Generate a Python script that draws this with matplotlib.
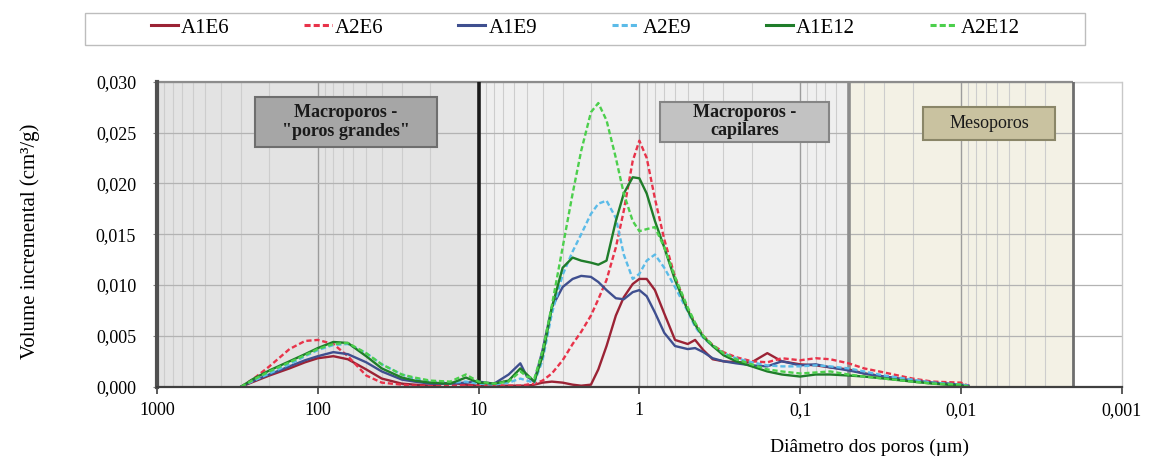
import matplotlib
matplotlib.use('Agg')
import matplotlib.pyplot as plt
from matplotlib.patches import Rectangle
from matplotlib.lines import Line2D
import numpy as np

plt.rcParams['font.family'] = ['Liberation Serif', 'DejaVu Serif']

# ---------------- data (pore diameter in µm, incremental volume in cm3/g) ----
diameters = [300, 250, 200, 150, 120, 100, 80, 65, 50, 40, 30, 25, 20, 15, 12, 10,
             8, 6.5, 5.5, 5, 4.5, 4, 3.5, 3, 2.6, 2.3, 2, 1.8, 1.6, 1.4, 1.25, 1.1,
             1.0, 0.9, 0.8, 0.7, 0.6, 0.5, 0.45, 0.4, 0.35, 0.3, 0.25, 0.2, 0.16,
             0.13, 0.1, 0.08, 0.065, 0.05, 0.04, 0.03, 0.02, 0.015, 0.01, 0.009]

A1E6 = [0, 0.0005, 0.0011, 0.0018, 0.0024, 0.0028, 0.0030, 0.0027, 0.0017, 0.0008,
        0.0003, 0.0002, 0.0001, 0.0004, 0.0002, 0.0001,
        0.0001, 0.0001, 0.0001, 0.0001, 0.0002, 0.0004, 0.0005, 0.0004, 0.0002,
        0.0001, 0.0002, 0.0017, 0.0040, 0.0070, 0.0088, 0.0101,
        0.0106, 0.0106, 0.0095, 0.0072, 0.0046, 0.0042, 0.0046, 0.0036, 0.0027,
        0.0025, 0.0024, 0.0024, 0.0033,
        0.0025, 0.0022, 0.0021, 0.0019, 0.0017, 0.0013, 0.0010, 0.0006, 0.0004,
        0.0002, 0.0001]

A2E6 = [0, 0.0008, 0.0020, 0.0037, 0.0045, 0.0046, 0.0042, 0.0030, 0.0011, 0.0004,
        0.0002, 0.0001, 0.0001, 0.0002, 0.0001, 0.0001,
        0.0001, 0.0001, 0.0001, 0.0002, 0.0003, 0.0006, 0.0013, 0.0026, 0.0042,
        0.0054, 0.0070, 0.0086, 0.0105, 0.0137, 0.0173, 0.0222,
        0.0242, 0.0225, 0.0185, 0.0145, 0.0108, 0.0076, 0.0062, 0.0050, 0.0041,
        0.0034, 0.0029, 0.0025, 0.0024,
        0.0028, 0.0026, 0.0028, 0.0027, 0.0023, 0.0018, 0.0014, 0.0008, 0.0005,
        0.0004, 0.0001]

A1E9 = [0, 0.0006, 0.0012, 0.0020, 0.0026, 0.0030, 0.0034, 0.0032, 0.0024, 0.0015,
        0.0007, 0.0005, 0.0003, 0.0003, 0.0004, 0.0005,
        0.0003, 0.0012, 0.0023, 0.0010, 0.0005, 0.0036, 0.0078, 0.0098, 0.0106,
        0.0109, 0.0108, 0.0103, 0.0095, 0.0087, 0.0086, 0.0093,
        0.0095, 0.0089, 0.0073, 0.0053, 0.0040, 0.0037, 0.0038, 0.0034, 0.0028,
        0.0025, 0.0023, 0.0021, 0.0020,
        0.0025, 0.0021, 0.0022, 0.0019, 0.0016, 0.0013, 0.0010, 0.0006, 0.0004,
        0.0002, 0.0001]

A2E9 = [0, 0.0006, 0.0013, 0.0022, 0.0030, 0.0036, 0.0041, 0.0042, 0.0033, 0.0022,
        0.0012, 0.0008, 0.0005, 0.0004, 0.0005, 0.0003,
        0.0002, 0.0004, 0.0008, 0.0006, 0.0004, 0.0026, 0.0072, 0.0110, 0.0133,
        0.0150, 0.0170, 0.0180, 0.0183, 0.0166, 0.0130, 0.0106,
        0.0111, 0.0124, 0.0130, 0.0117, 0.0098, 0.0074, 0.0059, 0.0048, 0.0040,
        0.0033, 0.0028, 0.0024, 0.0021,
        0.0020, 0.0020, 0.0021, 0.0020, 0.0018, 0.0015, 0.0011, 0.0007, 0.0004,
        0.0002, 0.0001]

A1E12 = [0, 0.0008, 0.0016, 0.0025, 0.0032, 0.0038, 0.0044, 0.0043, 0.0030, 0.0018,
         0.0009, 0.0006, 0.0004, 0.0003, 0.0009, 0.0004,
         0.0003, 0.0006, 0.0018, 0.0012, 0.0005, 0.0030, 0.0078, 0.0117, 0.0127,
         0.0124, 0.0122, 0.0120, 0.0124, 0.0163, 0.0190, 0.0206,
         0.0205, 0.0190, 0.0163, 0.0137, 0.0105, 0.0075, 0.0061, 0.0049, 0.0040,
         0.0031, 0.0025, 0.0020, 0.0015,
         0.0012, 0.0010, 0.0012, 0.0012, 0.0011, 0.0010, 0.0008, 0.0005, 0.0003,
         0.0001, 0.0]

A2E12 = [0, 0.0007, 0.0015, 0.0024, 0.0031, 0.0037, 0.0042, 0.0043, 0.0033, 0.0022,
         0.0012, 0.0009, 0.0006, 0.0005, 0.0012, 0.0005,
         0.0003, 0.0005, 0.0015, 0.0010, 0.0008, 0.0035, 0.0080, 0.0137, 0.0190,
         0.0232, 0.0270, 0.0279, 0.0262, 0.0225, 0.0190, 0.0163,
         0.0153, 0.0155, 0.0157, 0.0137, 0.0108, 0.0078, 0.0063, 0.0050, 0.0041,
         0.0033, 0.0027, 0.0022, 0.0017,
         0.0015, 0.0013, 0.0014, 0.0015, 0.0012, 0.0010, 0.0008, 0.0005, 0.0003,
         0.0002, 0.0]

series_names = ['A1E6', 'A2E6', 'A1E9', 'A2E9', 'A1E12', 'A2E12']
series_values = [A1E6, A2E6, A1E9, A2E9, A1E12, A2E12]
series_colors = ['#9b2335', '#e8334a', '#3f4f8f', '#5bbbe8', '#1f7d2a', '#4ccf4c']
series_dashed = [False, True, False, True, False, True]

x_ticks = [1000, 100, 10, 1, 0.1, 0.01, 0.001]
x_ticklabels = ['1000', '100', '10', '1', '0,1', '0,01', '0,001']
y_ticks = [0.0, 0.005, 0.010, 0.015, 0.020, 0.025, 0.030]
y_ticklabels = ['0,000', '0,005', '0,010', '0,015', '0,020', '0,025', '0,030']

regions = [(10, 1000, '#e3e3e3'), (0.05, 10, '#efefef'), (0.002, 0.05, '#f3f1e5')]

# ---------------- figure ---------------------------------------------------------
W, H = 1149, 461
fig = plt.figure(figsize=(W / 100, H / 100), dpi=100)
ax = fig.add_axes([157 / W, 74.3 / H, 964.7 / W, 305 / H])
ax.set_xscale('log')
ax.set_xlim(1000, 0.001)
ax.set_ylim(0, 0.030)

for lo, hi, c in regions:
    ax.axvspan(lo, hi, facecolor=c, edgecolor='none', zorder=0)

# minor vertical grid inside shaded ranges
for k in range(-3, 3):
    for m in range(2, 10):
        xv = m * 10.0 ** k
        if 0.002 <= xv <= 1000:
            ax.axvline(xv, color='#cdcdcd', lw=0.8, zorder=1)
for xv in [100, 1, 0.1, 0.01]:
    ax.axvline(xv, color='#9c9c9c', lw=1.0, zorder=1)
for yv in y_ticks[1:]:
    ax.axhline(yv, color='#b3b3b3', lw=0.9, zorder=1)

# region borders
ax.hlines(0.030, 0.002, 1000, color='#8c8c8c', lw=1.6, zorder=2, clip_on=False)
ax.hlines(0.030, 0.001, 0.002, color='#cfcfcf', lw=1.0, zorder=2, clip_on=False)
ax.axvline(1000, color='#505050', lw=3, zorder=2, clip_on=False)
ax.axvline(10, color='#1a1a1a', lw=2.6, zorder=2)
ax.axvline(0.05, color='#8c8c8c', lw=2.6, zorder=2)
ax.axvline(0.002, color='#6e6e6e', lw=2.0, zorder=2)
ax.axvline(0.001, color='#c8c8c8', lw=1.0, zorder=2, clip_on=False)

for name, vals, col, dsh in zip(series_names, series_values, series_colors, series_dashed):
    line, = ax.plot(diameters, vals, color=col, lw=1.7, label=name, zorder=3,
                    solid_joinstyle='round')
    if dsh:
        line.set_dashes((2.2, 1.2))

for s in ['left', 'right', 'top']:
    ax.spines[s].set_visible(False)
ax.spines['bottom'].set_color('#404040')
ax.spines['bottom'].set_linewidth(1.6)
ax.spines['bottom'].set_zorder(4)

ax.set_xticks(x_ticks)
ax.set_xticklabels(x_ticklabels)
ax.xaxis.set_minor_locator(matplotlib.ticker.NullLocator())
ax.set_yticks(y_ticks)
ax.set_yticklabels(y_ticklabels)
ax.tick_params(axis='x', length=5, width=1.2, color='#404040', pad=6, labelsize=13)
ax.tick_params(axis='y', length=3, width=0.8, color='#808080', pad=12, labelsize=13)

fig.text(30 / W, 1 - 241 / H, 'Volume incremental (cm³/g)', rotation=90,
         ha='center', va='center', fontsize=15)
fig.text(870 / W, 1 - 447 / H, 'Diâmetro dos poros (µm)', ha='center', va='center',
         fontsize=14)

# region labels
boxes = [((0.1016, 0.786), 0.1886, 0.164, '#a6a6a6', '#6e6e6e',
          'Macroporos -\n"poros grandes"', 'bold'),
         ((0.5214, 0.803), 0.1755, 0.131, '#c2c2c2', '#858585',
          'Macroporos -\ncapilares', 'bold'),
         ((0.7944, 0.809), 0.1365, 0.109, '#c9c2a0', '#8a8668',
          'Mesoporos', 'normal')]
for (x0, y0), w, h, fc, ec, txt, wt in boxes:
    ax.add_patch(Rectangle((x0, y0), w, h, transform=ax.transAxes, facecolor=fc,
                           edgecolor=ec, lw=1.5, zorder=5))
    ax.text(x0 + w / 2, y0 + h / 2, txt, transform=ax.transAxes, ha='center',
            va='center', fontsize=13, fontweight=wt, color='#1a1a1a', zorder=6,
            linespacing=1.1)

# legend
handles = []
for name, col, dsh in zip(series_names, series_colors, series_dashed):
    h = Line2D([], [], color=col, lw=2.2, linestyle=(0, (2.0, 1.0)) if dsh else '-')
    handles.append(h)
fig.legend(handles, series_names, ncol=6, loc='center',
           bbox_to_anchor=(585 / W, 1 - 28 / H), frameon=False, fontsize=15,
           handlelength=1.3, handletextpad=0.15, columnspacing=3.6)
fig.patches.append(Rectangle((85 / W, 1 - 45 / H), 1000 / W, 32 / H,
                             transform=fig.transFigure, facecolor='none',
                             edgecolor='#bdbdbd', lw=1.0))

fig.savefig('out.png', dpi=100)
